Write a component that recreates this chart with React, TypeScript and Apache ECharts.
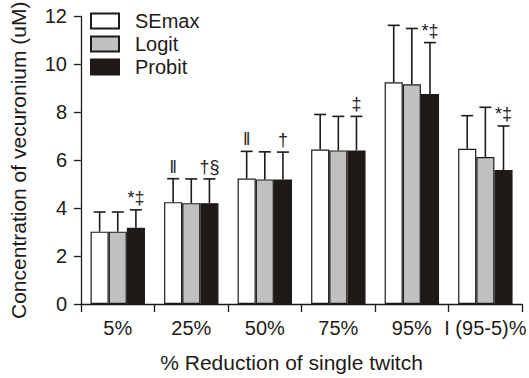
import React, { useEffect, useRef } from "react";
import * as echarts from "echarts";

const categories = ["5%", "25%", "50%", "75%", "95%", "I (95-5)%"];
const seriesNames = ["SEmax", "Logit", "Probit"];
const semaxValues = [3.02, 4.25, 5.24, 6.45, 9.25, 6.48];
const logitValues = [3.02, 4.21, 5.2, 6.41, 9.17, 6.13];
const probitValues = [3.18, 4.21, 5.2, 6.41, 8.76, 5.59];
const semaxUpper = [3.84, 5.23, 6.37, 7.91, 11.63, 7.86];
const logitUpper = [3.84, 5.22, 6.35, 7.83, 11.5, 8.21];
const probitUpper = [3.93, 5.22, 6.34, 7.83, 10.91, 7.43];
const semaxMarks = ["", "\u2016", "\u2016", "", "", ""];
const logitMarks = ["", "", "", "", "", ""];
const probitMarks = ["*\u2021", "\u2020\u00a7", "\u2020", "\u2021", "*\u2021", "*\u2021"];
const yTicks = { min: 0, max: 12, interval: 2 };

const FONT = "'Liberation Sans', Arial, sans-serif";
const INK = "#1e1a18";
const colors = ["#ffffff", "#c0c0c0", "#1e1a18"];
const CAT_GAP = 0.26;

export default function App() {
  const ref = useRef<HTMLDivElement>(null);
  useEffect(() => {
    if (!ref.current) return;
    const chart = echarts.init(ref.current, undefined, { renderer: "svg" });
    const values = [semaxValues, logitValues, probitValues];
    const uppers = [semaxUpper, logitUpper, probitUpper];
    const marks = [semaxMarks, logitMarks, probitMarks];

    const barSeries = seriesNames.map((name, i) => ({
      name,
      type: "bar",
      data: values[i],
      barGap: "0%",
      barCategoryGap: CAT_GAP * 100 + "%",
      itemStyle: { color: colors[i], borderColor: INK, borderWidth: 1.2 },
      z: 2,
    }));

    const errSeries = seriesNames.map((name, i) => ({
      type: "custom",
      z: 5,
      silent: true,
      itemStyle: { color: INK },
      data: categories.map((_, k) => [k, values[i][k], uppers[i][k]]),
      renderItem: (params: any, api: any) => {
        const k = api.value(0);
        const base = api.coord([k, api.value(1)]);
        const top = api.coord([k, api.value(2)]);
        const bandW = api.size([1, 0])[0];
        const barW = (bandW * (1 - CAT_GAP)) / 3;
        const x = base[0] + (i - 1) * barW;
        const cap = 6;
        const mark = marks[i][k];
        const children: any[] = [
          {
            type: "line",
            shape: { x1: x, y1: base[1], x2: x, y2: top[1] },
            style: { stroke: INK, lineWidth: 1.6 },
          },
          {
            type: "line",
            shape: { x1: x - cap, y1: top[1], x2: x + cap, y2: top[1] },
            style: { stroke: INK, lineWidth: 1.6 },
          },
        ];
        if (mark) {
          children.push({
            type: "text",
            x: x,
            y: top[1] - 3,
            style: {
              text: mark,
              fill: INK,
              stroke: "none",
              lineWidth: 0,
              fontSize: 18,
              fontFamily: FONT,
              align: "center",
              verticalAlign: "bottom",
            },
          });
        }
        return { type: "group", children };
      },
    }));

    chart.setOption({
      animation: false,
      backgroundColor: "#ffffff",
      legend: {
        data: seriesNames,
        orient: "vertical",
        left: 90,
        top: 11,
        padding: 0,
        itemWidth: 28,
        itemHeight: 15,
        itemGap: 3,
        icon: "rect",
        textStyle: { fontSize: 20, fontFamily: FONT, color: INK, padding: [0, 0, 0, 11] },
      },
      grid: { left: 79, right: 3, top: 15, bottom: 71, containLabel: false },
      xAxis: {
        type: "category",
        data: categories,
        name: "% Reduction of single twitch",
        nameLocation: "middle",
        nameGap: 48,
        nameTextStyle: { fontSize: 21, fontFamily: FONT, color: INK, padding: [0, 20, 0, 0] },
        axisLine: { lineStyle: { color: INK, width: 1.3 } },
        axisTick: { show: true, length: 8, lineStyle: { color: INK, width: 1.3 } },
        axisLabel: { fontSize: 20, fontFamily: FONT, color: INK, margin: 14, interval: 0 },
      },
      yAxis: {
        type: "value",
        min: yTicks.min,
        max: yTicks.max,
        interval: yTicks.interval,
        name: "Concentration of vecuronium (uM)",
        nameLocation: "middle",
        nameGap: 52,
        nameTextStyle: { fontSize: 21, fontFamily: FONT, color: INK },
        axisLine: { show: true, lineStyle: { color: INK, width: 1.3 } },
        axisTick: { show: true, length: 7, lineStyle: { color: INK, width: 1.3 } },
        axisLabel: { fontSize: 20, fontFamily: FONT, color: INK, margin: 14 },
        splitLine: { show: false },
      },
      series: [...barSeries, ...errSeries],
    });
    return () => chart.dispose();
  }, []);
  return (
    <div
      ref={ref}
      style={{ position: "fixed", left: 0, top: 0, width: 529, height: 378, background: "#fff" }}
    />
  );
}
